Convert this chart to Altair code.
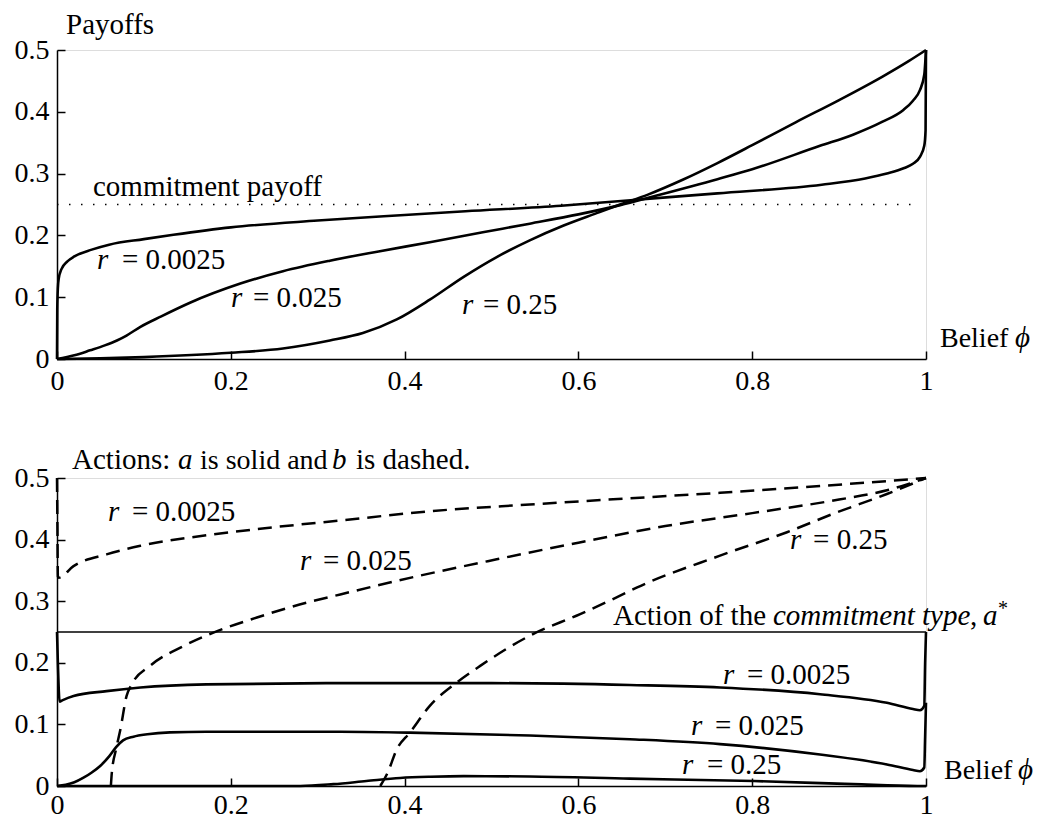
import altair as alt
import pandas as pd

W, H1, H2 = 869, 309, 308
FONT = "Liberation Serif"
FS_TICK = 28
FS = 29

# ---------------- data: top panel (payoffs) ----------------
pay_0025_phi = [0, 0.0003, 0.001, 0.002, 0.005, 0.012, 0.02, 0.04, 0.06, 0.1, 0.134, 0.2, 0.3, 0.4,
                0.47, 0.58, 0.66, 0.76, 0.88, 0.93, 0.955, 0.975, 0.985, 0.993, 0.998, 0.9995, 1.0]
pay_0025_v = [0, 0.08, 0.115, 0.13, 0.145, 0.158, 0.166, 0.177, 0.185, 0.194, 0.201, 0.213, 0.224, 0.233,
              0.239, 0.248, 0.257, 0.268, 0.282, 0.292, 0.300, 0.309, 0.316, 0.327, 0.345, 0.37, 0.5]

pay_025_phi = [0, 0.02, 0.038, 0.055, 0.069, 0.08, 0.096, 0.12, 0.153, 0.211, 0.26, 0.314, 0.37, 0.429,
               0.49, 0.544, 0.6, 0.648, 0.686, 0.76, 0.8, 0.878, 0.916, 0.95, 0.974, 0.985, 0.993, 0.998, 1.0]
pay_025_v = [0, 0.006, 0.014, 0.022, 0.030, 0.038, 0.052, 0.069, 0.091, 0.122, 0.142, 0.159, 0.174, 0.189,
             0.205, 0.219, 0.234, 0.249, 0.263, 0.291, 0.307, 0.345, 0.363, 0.384, 0.403, 0.418, 0.435, 0.46, 0.5]

pay_25_phi = [0, 0.05, 0.1, 0.2, 0.26, 0.314, 0.352, 0.391, 0.429, 0.468, 0.506, 0.544, 0.583, 0.621,
              0.648, 0.68, 0.72, 0.76, 0.8, 0.85, 0.9, 0.95, 0.98, 1.0]
pay_25_v = [0, 0.001, 0.003, 0.010, 0.017, 0.030, 0.042, 0.064, 0.096, 0.133, 0.165, 0.192, 0.216, 0.236,
            0.250, 0.266, 0.290, 0.317, 0.346, 0.383, 0.419, 0.457, 0.482, 0.5]

commit_payoff = 0.25

# ---------------- data: bottom panel (actions) ----------------
a_0025_phi = [0, 0.001, 0.003, 0.006, 0.019, 0.057, 0.096, 0.172, 0.326, 0.5, 0.659, 0.763, 0.878,
              0.955, 0.985, 0.993, 0.998, 0.999, 1.0]
a_0025_v = [0.25, 0.2, 0.137, 0.139, 0.146, 0.154, 0.160, 0.165, 0.167, 0.167, 0.164, 0.160, 0.149,
            0.135, 0.125, 0.123, 0.13, 0.2, 0.25]

a_025_phi = [0, 0.01, 0.02, 0.03, 0.04, 0.05, 0.06, 0.068, 0.076, 0.088, 0.104, 0.13, 0.172, 0.326,
             0.406, 0.544, 0.659, 0.763, 0.878, 0.955, 0.985, 0.993, 0.998, 0.999, 1.0]
a_025_v = [0, 0.002, 0.006, 0.013, 0.022, 0.033, 0.048, 0.063, 0.074, 0.080, 0.084, 0.087, 0.088, 0.088,
           0.0866, 0.082, 0.076, 0.068, 0.051, 0.035, 0.026, 0.024, 0.03, 0.08, 0.135]

a_25_phi = [0, 0.28, 0.318, 0.356, 0.395, 0.43, 0.468, 0.544, 0.659, 0.802, 0.916, 0.99, 1.0]
a_25_v = [0, 0.0, 0.003, 0.008, 0.013, 0.015, 0.016, 0.0155, 0.012, 0.008, 0.003, 0.0, 0.0]

b_0025_phi = [0, 0.0005, 0.001, 0.002, 0.019, 0.057, 0.096, 0.172, 0.249, 0.326, 0.429, 0.544, 0.659,
              0.763, 0.878, 0.955, 1.0]
b_0025_v = [0.5, 0.42, 0.34, 0.338, 0.357, 0.376, 0.39, 0.407, 0.42, 0.431, 0.446, 0.457, 0.467,
            0.476, 0.487, 0.495, 0.5]

b_025_phi = [0.062, 0.063, 0.068, 0.073, 0.080, 0.086, 0.107, 0.146, 0.18, 0.23, 0.288, 0.326, 0.391,
             0.506, 0.6, 0.7, 0.8, 0.9, 0.955, 1.0]
b_025_v = [0.0, 0.02, 0.06, 0.092, 0.146, 0.165, 0.195, 0.2275, 0.249, 0.2735, 0.298, 0.311, 0.333,
           0.368, 0.395, 0.422, 0.443, 0.465, 0.48, 0.5]

b_25_phi = [0.372, 0.38, 0.391, 0.406, 0.429, 0.46, 0.487, 0.544, 0.602, 0.648, 0.667, 0.763, 0.84,
            0.897, 0.955, 1.0]
b_25_v = [0.0, 0.02, 0.0595, 0.0866, 0.13, 0.168, 0.195, 0.244, 0.279, 0.309, 0.322, 0.374, 0.412,
          0.444, 0.474, 0.5]

commit_action = 0.25

x_ticks = [0, 0.2, 0.4, 0.6, 0.8, 1]
y_ticks = [0, 0.1, 0.2, 0.3, 0.4, 0.5]

# ---------------- annotation tables (data coordinates) ----------------
top_reg = pd.DataFrame({
    "phi": [0.0104, 0.0414, 0.0748, 0.2255, 0.4902, 1.0161],
    "v": [0.5263, 0.2640, 0.1457, 0.0842, 0.0729, 0.0194],
    "text": ["Payoffs", "commitment payoff", "= 0.0025", "= 0.025", "= 0.25", "Belief"],
    "size": [29, 29, 29, 29, 29, 28],
})
top_ita = pd.DataFrame({
    "phi": [0.0460, 0.2002, 0.4660, 1.1024],
    "v": [0.1457, 0.0842, 0.0729, 0.0194],
    "text": ["r", "r", "r", "ϕ"],
})
bot_reg = pd.DataFrame({
    "phi": [0.0173, 0.1646, 0.3441, 0.0863, 0.3061, 0.8700, 0.6398, 1.0506, 0.7940, 0.7572, 0.7480, 1.0207],
    "v": [0.5146, 0.5146, 0.5146, 0.4302, 0.3506, 0.3847, 0.2614, 0.2614, 0.1656, 0.0828, 0.0195, 0.0114],
    "text": ["Actions:", "is solid and", "is dashed.", "= 0.0025", "= 0.025", "= 0.25",
             "Action of the", ",", "= 0.0025", "= 0.025", "= 0.25", "Belief"],
    "size": [29, 28, 29, 29, 29, 29, 29, 29, 29, 29, 29, 28],
})
bot_ita = pd.DataFrame({
    "phi": [0.1392, 0.3165, 0.0587, 0.2796, 0.8435, 0.8239, 1.0656, 0.7664, 0.7296, 0.7192, 1.1059],
    "v": [0.5146, 0.5146, 0.4302, 0.3506, 0.3847, 0.2614, 0.2614, 0.1656, 0.0828, 0.0195, 0.0114],
    "text": ["a", "b", "r", "r", "r", "commitment type", "a", "r", "r", "r", "ϕ"],
})
bot_sup = pd.DataFrame({"phi": [1.0829], "v": [0.278], "text": ["*"]})


def frame(phi, v, name):
    return pd.DataFrame({"phi": phi, "v": v, "series": name})


top_df = pd.concat([frame(pay_0025_phi, pay_0025_v, "r=0.0025"),
                    frame(pay_025_phi, pay_025_v, "r=0.025"),
                    frame(pay_25_phi, pay_25_v, "r=0.25")])
a_df = pd.concat([frame(a_0025_phi, a_0025_v, "r=0.0025"),
                  frame(a_025_phi, a_025_v, "r=0.025"),
                  frame(a_25_phi, a_25_v, "r=0.25")])
b_df = pd.concat([frame(b_0025_phi, b_0025_v, "r=0.0025"),
                  frame(b_025_phi, b_025_v, "r=0.025"),
                  frame(b_25_phi, b_25_v, "r=0.25")])

xs = alt.Scale(domain=[0, 1], nice=False, zero=False)
ys = alt.Scale(domain=[0, 0.5], nice=False, zero=False)


def main_x(pad):
    return alt.Axis(orient="bottom", values=x_ticks, format="~g", ticks=False, labelFont=FONT,
                    labelFontSize=FS_TICK, labelColor="black", labelPadding=pad, domainColor="black",
                    domainWidth=1.5, grid=False, title=None, labelFlush=False, labelOverlap=False)


def main_y():
    return alt.Axis(orient="left", values=y_ticks, format="~g", ticks=False, labelFont=FONT,
                    labelFontSize=FS_TICK, labelColor="black", labelPadding=8, domainColor="black",
                    domainWidth=1.5, grid=False, title=None, labelFlush=False, labelOverlap=False)


def tick_x(h):
    return alt.Axis(orient="top", offset=-h, values=x_ticks, labels=False, domain=False, ticks=True,
                    tickSize=8, tickWidth=1.5, tickColor="black", grid=False, title=None)


def tick_y():
    return alt.Axis(orient="right", offset=-W, values=y_ticks, labels=False, domain=False, ticks=True,
                    tickSize=8, tickWidth=1.5, tickColor="black", grid=False, title=None)


def texts(df, style="normal", size=FS):
    enc = dict(
        x=alt.X("phi:Q", scale=xs, axis=None),
        y=alt.Y("v:Q", scale=ys, axis=None),
        text="text:N",
    )
    if "size" in df.columns:
        enc["size"] = alt.Size("size:Q", scale=None, legend=None)
    return alt.Chart(df).mark_text(font=FONT, fontSize=size, fontStyle=style, align="left",
                                   baseline="alphabetic", color="black").encode(**enc)


# ---------------- top panel ----------------
top_lines = alt.Chart(top_df).mark_line(color="black", strokeWidth=2.6, interpolate="monotone").encode(
    x=alt.X("phi:Q", scale=xs, axis=main_x(8)),
    y=alt.Y("v:Q", scale=ys, axis=main_y()),
    detail="series:N",
    order="phi:Q",
)
top_ref = alt.Chart(pd.DataFrame({"v": [commit_payoff], "x0": [0.0], "x1": [0.99]})).mark_rule(
    color="black", strokeWidth=1.3, strokeDash=[1.5, 10.5]).encode(
    x=alt.X("x0:Q", scale=xs, axis=tick_x(H1)),
    x2="x1:Q",
    y=alt.Y("v:Q", scale=ys, axis=tick_y()),
)
top = alt.layer(top_ref, top_lines, texts(top_reg), texts(top_ita, "italic")).resolve_axis(
    x="independent", y="independent").properties(width=W, height=H1)

# ---------------- bottom panel ----------------
bot_ref = alt.Chart(pd.DataFrame({"v": [commit_action], "x0": [0.0], "x1": [1.0]})).mark_rule(
    color="black", strokeWidth=1.3).encode(
    x=alt.X("x0:Q", scale=xs, axis=tick_x(H2)),
    x2="x1:Q",
    y=alt.Y("v:Q", scale=ys, axis=tick_y()),
)
a_lines = alt.Chart(a_df).mark_line(color="black", strokeWidth=2.6, interpolate="monotone").encode(
    x=alt.X("phi:Q", scale=xs, axis=main_x(5)),
    y=alt.Y("v:Q", scale=ys, axis=main_y()),
    detail="series:N",
    order="phi:Q",
)
b_lines = alt.Chart(b_df).mark_line(color="black", strokeWidth=2.5, strokeDash=[14, 8],
                                    interpolate="monotone").encode(
    x=alt.X("phi:Q", scale=xs, axis=None),
    y=alt.Y("v:Q", scale=ys, axis=None),
    detail="series:N",
    order="phi:Q",
)
bottom = alt.layer(bot_ref, b_lines, a_lines, texts(bot_reg), texts(bot_ita, "italic"),
                   texts(bot_sup, "normal", 20)).resolve_axis(
    x="independent", y="independent").properties(width=W, height=H2)

chart = alt.vconcat(top, bottom, spacing=119, bounds="flush").properties(
    padding={"left": 5, "top": 2, "right": 0, "bottom": 0}
).configure_view(stroke=None).configure(background="white")

chart.save("out.html", embed_options={"renderer": "svg", "actions": False})
